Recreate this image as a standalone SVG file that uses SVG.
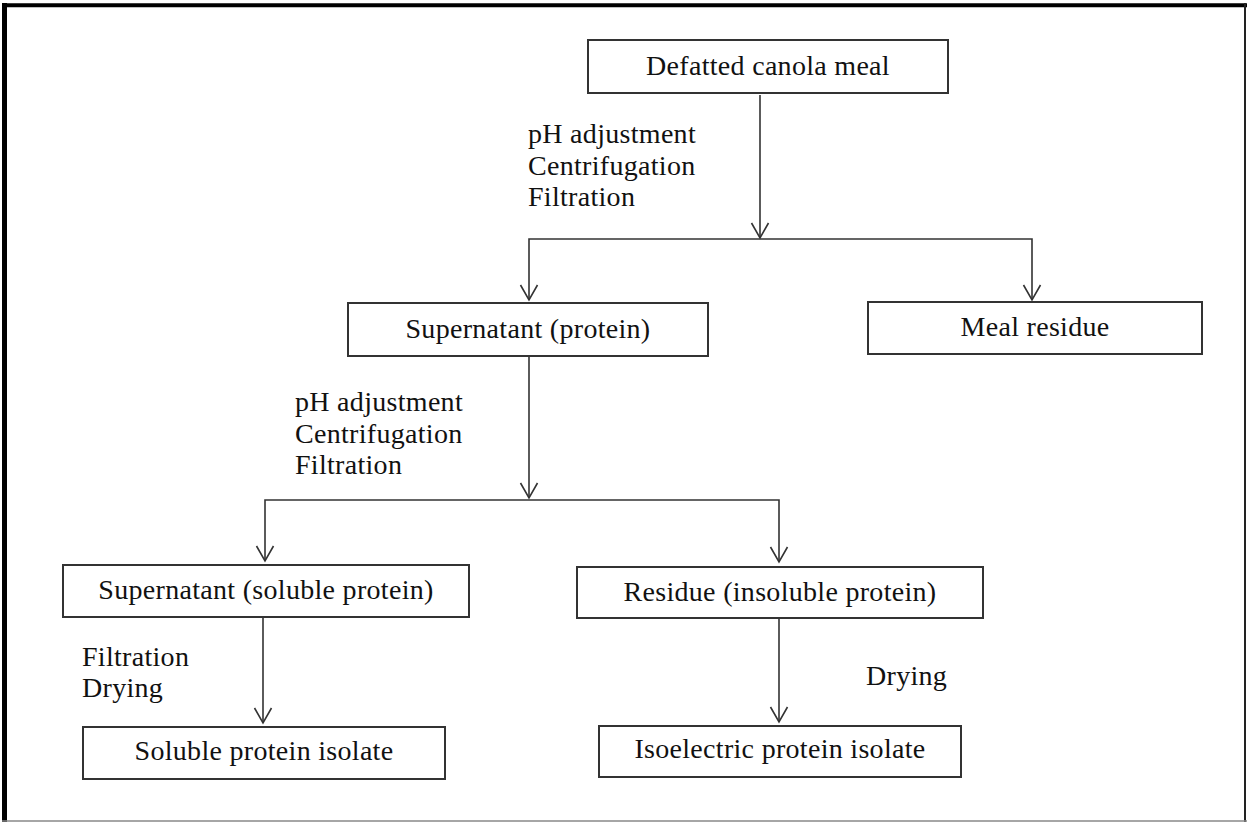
<svg xmlns="http://www.w3.org/2000/svg" width="1247" height="822" viewBox="0 0 1247 822">
<style>
.box{fill:#fff;stroke:#333;stroke-width:2}
.t{font-family:"Liberation Serif","Times New Roman",serif;font-size:28px;letter-spacing:0.3px;fill:#111}
.c{text-anchor:middle}
.ln{fill:none;stroke:#333;stroke-width:1.6}
</style>
<rect width="1247" height="822" fill="#fff"/>
<g id="frame">
<line x1="4.5" y1="3" x2="4.5" y2="822" stroke="#000" stroke-width="5"/>
<line x1="2" y1="5.3" x2="1247" y2="5.3" stroke="#000" stroke-width="4"/>
<line x1="1245" y1="3" x2="1245" y2="822" stroke="#222" stroke-width="2"/>
<line x1="2" y1="821" x2="1247" y2="821" stroke="#888" stroke-width="1.5"/>
</g>
<g id="connectors">
<line class="ln" x1="760" y1="95" x2="760" y2="238"/>
<path class="ln" d="M751.5,223 L760,238 L768.5,223"/>
<polyline class="ln" points="529,300 529,239 1032,239 1032,300"/>
<path class="ln" d="M520.5,285 L529,300 L537.5,285 M1023.5,285 L1032,300 L1040.5,285"/>
<line class="ln" x1="529" y1="356" x2="529" y2="498"/>
<path class="ln" d="M520.5,483 L529,498 L537.5,483"/>
<polyline class="ln" points="265,561 265,500 779,500 779,562"/>
<path class="ln" d="M256.5,546 L265,561 L273.5,546 M770.5,547 L779,562 L787.5,547"/>
<line class="ln" x1="263" y1="617" x2="263" y2="723"/>
<path class="ln" d="M254.5,708 L263,723 L271.5,708"/>
<line class="ln" x1="779" y1="618" x2="779" y2="722"/>
<path class="ln" d="M770.5,707 L779,722 L787.5,707"/>
</g>
<g id="labels">
<text class="t" x="528" y="143">pH adjustment</text>
<text class="t" x="528" y="175">Centrifugation</text>
<text class="t" x="528" y="206">Filtration</text>
<text class="t" x="295" y="411">pH adjustment</text>
<text class="t" x="295" y="443">Centrifugation</text>
<text class="t" x="295" y="474">Filtration</text>
<text class="t" x="82" y="666">Filtration</text>
<text class="t" x="82" y="697">Drying</text>
<text class="t" x="866" y="685">Drying</text>
</g>
<g id="n-defatted">
<rect class="box" x="588" y="40" width="360" height="53"/>
<text class="t c" x="768" y="75">Defatted canola meal</text>
</g>
<g id="n-supernatant">
<rect class="box" x="348" y="303" width="360" height="53"/>
<text class="t c" x="528" y="338">Supernatant (protein)</text>
</g>
<g id="n-mealresidue">
<rect class="box" x="868" y="302" width="334" height="52"/>
<text class="t c" x="1035" y="336">Meal residue</text>
</g>
<g id="n-soluble">
<rect class="box" x="63" y="565" width="406" height="52"/>
<text class="t c" x="266" y="599">Supernatant (soluble protein)</text>
</g>
<g id="n-residue">
<rect class="box" x="577" y="567" width="406" height="51"/>
<text class="t c" x="780" y="601">Residue (insoluble protein)</text>
</g>
<g id="n-solisolate">
<rect class="box" x="83" y="727" width="362" height="52"/>
<text class="t c" x="264" y="760">Soluble protein isolate</text>
</g>
<g id="n-isoisolate">
<rect class="box" x="599" y="726" width="362" height="51"/>
<text class="t c" x="780" y="758">Isoelectric protein isolate</text>
</g>
</svg>
